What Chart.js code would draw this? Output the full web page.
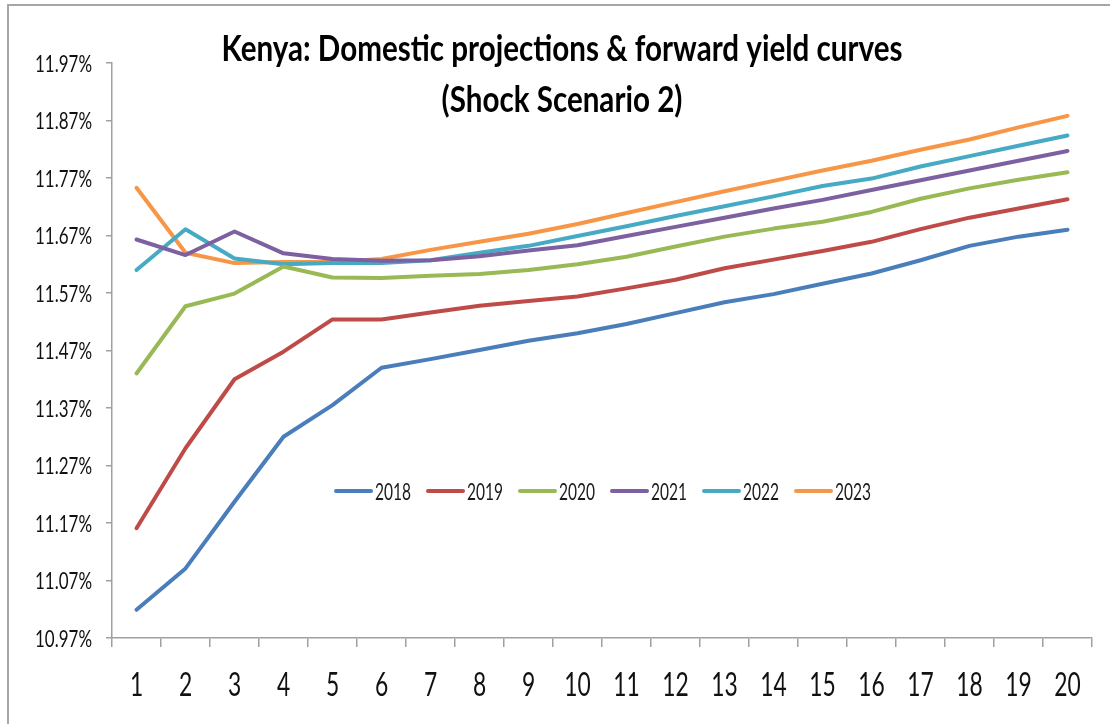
<!DOCTYPE html>
<html>
<head>
<meta charset="utf-8">
<script src="https://cdn.jsdelivr.net/npm/chart.js@4.4.1/dist/chart.umd.min.js"></script>
<style>
  html, body { margin: 0; padding: 0; background: #ffffff; }
  #wrap { position: relative; width: 1110px; height: 724px; }
  canvas { display: block; }
</style>
</head>
<body>
<div id="wrap"><canvas id="c" width="1110" height="724"></canvas></div>
<script>
const FONT = "Lato, 'Open Sans', sans-serif";

const titleLines = ["Kenya: Domestic projections & forward yield curves", "(Shock Scenario 2)"];
const categories = ["1","2","3","4","5","6","7","8","9","10","11","12","13","14","15","16","17","18","19","20"];
const seriesNames = ["2018", "2019", "2020", "2021", "2022", "2023"];
const seriesColors = ["#4A7EBB", "#BE4B48", "#98B954", "#7D60A0", "#46AAC5", "#F79646"];
const yTickValues = [10.97, 11.07, 11.17, 11.27, 11.37, 11.47, 11.57, 11.67, 11.77, 11.87, 11.97];

const y2018 = [11.019, 11.091, 11.207, 11.320, 11.375, 11.440, 11.455, 11.471, 11.487, 11.500, 11.516, 11.535, 11.554, 11.568, 11.586, 11.604, 11.627, 11.652, 11.668, 11.680];
const y2019 = [11.161, 11.300, 11.420, 11.468, 11.524, 11.524, 11.536, 11.548, 11.556, 11.564, 11.578, 11.593, 11.613, 11.628, 11.643, 11.659, 11.681, 11.701, 11.717, 11.733];
const y2020 = [11.430, 11.547, 11.569, 11.616, 11.597, 11.596, 11.600, 11.603, 11.610, 11.620, 11.633, 11.651, 11.668, 11.682, 11.694, 11.711, 11.734, 11.752, 11.767, 11.780];
const y2021 = [11.663, 11.636, 11.677, 11.639, 11.629, 11.626, 11.627, 11.634, 11.644, 11.653, 11.669, 11.685, 11.701, 11.717, 11.732, 11.749, 11.766, 11.783, 11.800, 11.817];
const y2022 = [11.610, 11.681, 11.630, 11.620, 11.622, 11.622, 11.627, 11.640, 11.652, 11.669, 11.686, 11.704, 11.721, 11.738, 11.756, 11.769, 11.790, 11.808, 11.826, 11.844];
const y2023 = [11.753, 11.640, 11.622, 11.624, 11.624, 11.629, 11.645, 11.659, 11.673, 11.690, 11.709, 11.728, 11.747, 11.765, 11.783, 11.800, 11.819, 11.837, 11.858, 11.878];

const seriesData = [y2018, y2019, y2020, y2021, y2022, y2023];

const datasets = seriesNames.map((name, i) => ({
  label: name,
  data: seriesData[i],
  borderColor: seriesColors[i],
  backgroundColor: seriesColors[i],
  borderWidth: 4,
  pointRadius: 0,
  pointHoverRadius: 0,
  tension: 0,
  fill: false,
  borderCapStyle: 'round',
  borderJoinStyle: 'round'
}));

function fmtPct(v) { return Number(v).toFixed(2) + '%'; }

// draw text squeezed horizontally (the reference uses a narrow, condensed face)
function drawText(ctx, text, x, y, font, align, sx, color) {
  ctx.save();
  ctx.font = font;
  ctx.fillStyle = color || '#000000';
  ctx.textBaseline = 'alphabetic';
  ctx.textAlign = 'left';
  const w = ctx.measureText(text).width * sx;
  let left = x;
  if (align === 'center') left = x - w / 2;
  else if (align === 'right') left = x - w;
  ctx.translate(left, y);
  ctx.scale(sx, 1);
  ctx.fillText(text, 0, 0);
  ctx.restore();
}

function fitScale(ctx, text, font, targetWidth) {
  ctx.save();
  ctx.font = font;
  const w = ctx.measureText(text).width;
  ctx.restore();
  return targetWidth / w;
}

const overlayPlugin = {
  id: 'overlay',
  beforeDraw(chart) {
    const ctx = chart.ctx;
    ctx.save();
    ctx.fillStyle = '#ffffff';
    ctx.fillRect(0, 0, chart.width, chart.height);
    ctx.strokeStyle = '#a6a6a6';
    ctx.lineWidth = 2;
    ctx.beginPath();
    ctx.moveTo(8, 724);
    ctx.lineTo(8, 5);
    ctx.lineTo(1110, 5);
    ctx.stroke();
    ctx.restore();
  },
  afterDraw(chart) {
    const ctx = chart.ctx;
    const xs = chart.scales.x, ys = chart.scales.y;

    // title
    const tFont = "bold 37px " + FONT;
    const tsx = fitScale(ctx, titleLines[0], tFont, 681);
    drawText(ctx, titleLines[0], 562, 61, tFont, 'center', tsx, '#000');
    drawText(ctx, titleLines[1], 562, 112, tFont, 'center', tsx, '#000');

    // y tick labels
    const yFont = "24px " + FONT;
    const ysx = fitScale(ctx, "11.97%", yFont, 57);
    yTickValues.forEach(v => {
      const py = ys.getPixelForValue(v);
      drawText(ctx, fmtPct(v), 92, py + 8.5, yFont, 'right', ysx, '#111');
    });

    // x tick labels
    const xFont = "32px " + FONT;
    const xsx = fitScale(ctx, "10", xFont, 26.5);
    categories.forEach((c, i) => {
      const px = xs.getPixelForTick(i);
      drawText(ctx, c, px, 696, xFont, 'center', xsx, '#111');
    });

    // legend
    const lFont = "23px " + FONT;
    const lsx = fitScale(ctx, "2018", lFont, 36);
    const ly = 491;
    chart.data.datasets.forEach((ds, i) => {
      const x0 = 336 + i * 92;
      ctx.save();
      ctx.strokeStyle = ds.borderColor;
      ctx.lineWidth = 4;
      ctx.lineCap = 'round';
      ctx.beginPath();
      ctx.moveTo(x0, ly);
      ctx.lineTo(x0 + 35, ly);
      ctx.stroke();
      ctx.restore();
      drawText(ctx, ds.label, x0 + 39, ly + 8.5, lFont, 'left', lsx, '#1a1a1a');
    });
  }
};

new Chart(document.getElementById('c'), {
  type: 'line',
  data: { labels: categories, datasets: datasets },
  plugins: [overlayPlugin],
  options: {
    responsive: false,
    animation: false,
    devicePixelRatio: 1,
    layout: { padding: { top: 63, right: 18, left: 0, bottom: 0 } },
    plugins: {
      legend: { display: false },
      title: { display: false },
      tooltip: { enabled: false }
    },
    scales: {
      x: {
        type: 'category',
        offset: true,
        grid: {
          offset: true,
          drawOnChartArea: false,
          drawTicks: true,
          tickLength: 9,
          color: '#a0a0a0',
          lineWidth: 1.5
        },
        border: { display: true, color: '#a0a0a0', width: 1.5 },
        ticks: { display: false, autoSkip: false },
        afterFit(scale) { scale.height = 86; }
      },
      y: {
        min: 10.97,
        max: 11.97,
        grid: {
          drawOnChartArea: false,
          drawTicks: true,
          tickLength: 6,
          color: '#a0a0a0',
          lineWidth: 1.5
        },
        border: { display: true, color: '#a0a0a0', width: 1.5 },
        afterBuildTicks(scale) {
          scale.ticks = yTickValues.map(v => ({ value: v }));
        },
        ticks: { display: false },
        afterFit(scale) { scale.width = 112; }
      }
    }
  }
});
</script>
</body>
</html>
